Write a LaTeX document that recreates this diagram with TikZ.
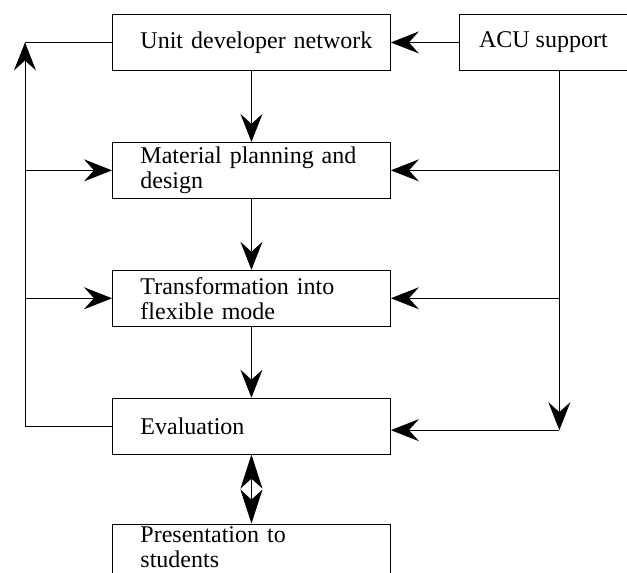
\documentclass[tikz,border=0pt]{standalone}
\usepackage{fontspec}
\setmainfont{Liberation Serif}
\usepackage{tikz}
\usetikzlibrary{arrows.meta,positioning,calc}

\begin{document}
\begin{tikzpicture}[
    x = 1pt, y = -1pt,
    node distance=71pt and 68pt,% vertical and horizontal gaps
    line width=0.9pt,
    >={Stealth[length=28pt,width=22pt,inset=10pt]},
    frame/.style={
        % The shape:
        rectangle,
        draw=black,
        minimum height=56pt,
        inner ysep=2pt,
        % The font
        font=\fontsize{24}{25}\selectfont},
    stage/.style={
        frame,
        inner xsep=14pt,
        text width=250pt,
        align=left,
        execute at begin node={\leftskip=14pt\hyphenpenalty=10000\relax}},
    source/.style={
        frame,
        minimum width=168pt}]%the boxes
  \useasboundingbox (0,0) rectangle (627,573);
  \node (unit) [stage,anchor=north west] at (112,14) {Unit developer network};
  \node (acu) [source,right=of unit] {ACU support};
  \node (material) [stage,below=of unit] {Material planning and\\design};
  \node (transform) [stage,below=of material] {Transformation into\\flexible mode};
  \node (evaluation) [stage,below=of transform] {Evaluation};
  \node (students) [stage,below=69pt of evaluation,
    execute at end node={\par\vspace*{9pt}}] {Presentation to\\students};
  % main chain
  \draw[->] (acu) -- (unit);
  \draw[->] (unit) -- (material);
  \draw[->] (material) -- (transform);
  \draw[->] (transform) -- (evaluation);
  \draw[{Stealth[length=34pt,width=22pt,inset=10pt]}-{Stealth[length=34pt,width=22pt,inset=10pt]}] (evaluation) -- (students);
  % left feedback line
  \coordinate (ltop) at ([xshift=-87pt]unit.west);
  \draw (unit.west) -- (ltop);
  \draw[->] (evaluation.west) -| (ltop);
  \draw[->] (ltop |- material.west) -- (material.west);
  \draw[->] (ltop |- transform.west) -- (transform.west);
  % right support line
  \coordinate (rtop) at ([xshift=16pt]acu.south);
  \coordinate (rbot) at ([yshift=-4pt]rtop |- evaluation.east);
  \draw[->] (rtop) -- (rbot);
  \draw[->] (rbot) -- (rbot -| evaluation.east);
  \draw[->] (rtop |- material.east) -- (material.east);
  \draw[->] (rtop |- transform.east) -- (transform.east);
\end{tikzpicture}
\end{document}
